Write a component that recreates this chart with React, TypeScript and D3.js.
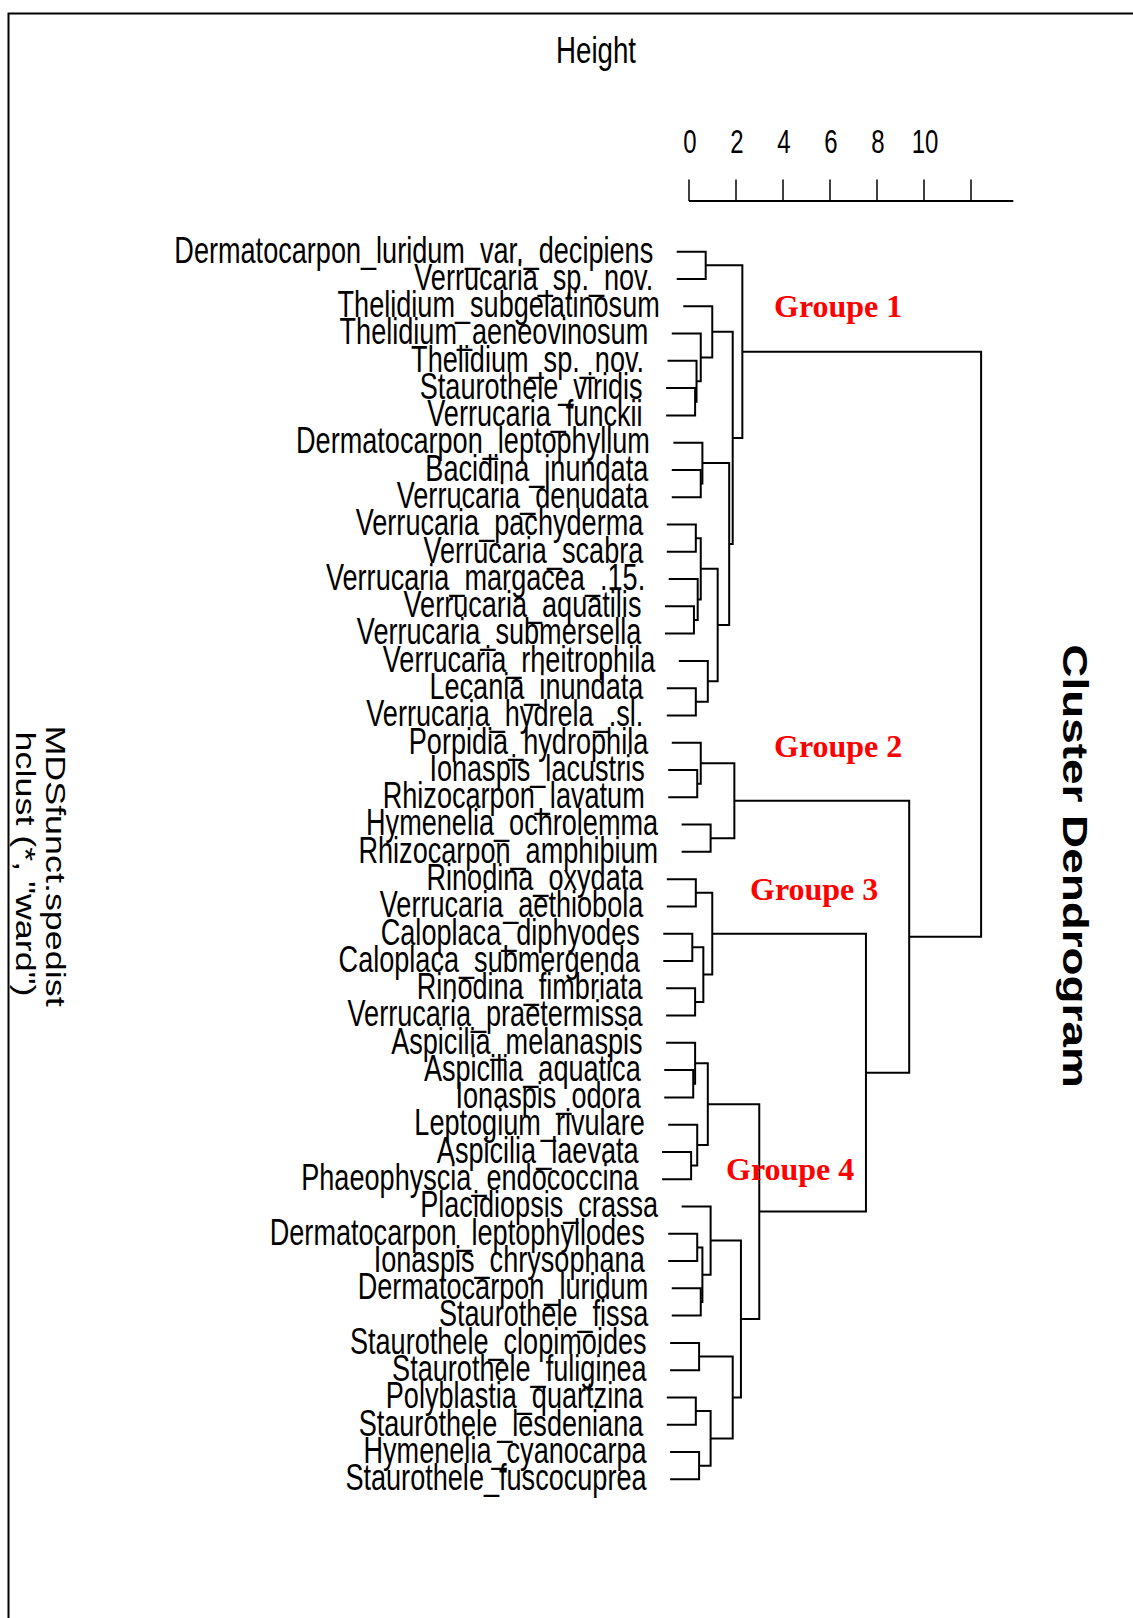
import React from 'react';
import * as d3 from 'd3';

// ---- data ----
const leafLabels = [
  'Dermatocarpon_luridum_var._decipiens', 'Verrucaria_sp._nov.', 'Thelidium_subgelatinosum',
  'Thelidium_aeneovinosum', 'Thelidium_sp._nov.', 'Staurothele_viridis', 'Verrucaria_funckii',
  'Dermatocarpon_leptophyllum', 'Bacidina_inundata', 'Verrucaria_denudata', 'Verrucaria_pachyderma',
  'Verrucaria_scabra', 'Verrucaria_margacea_.15.', 'Verrucaria_aquatilis', 'Verrucaria_submersella',
  'Verrucaria_rheitrophila', 'Lecania_inundata', 'Verrucaria_hydrela_.sl.', 'Porpidia_hydrophila',
  'Ionaspis_lacustris', 'Rhizocarpon_lavatum', 'Hymenelia_ochrolemma', 'Rhizocarpon_amphibium',
  'Rinodina_oxydata', 'Verrucaria_aethiobola', 'Caloplaca_diphyodes', 'Caloplaca_submergenda',
  'Rinodina_fimbriata', 'Verrucaria_praetermissa', 'Aspicilia_melanaspis', 'Aspicilia_aquatica',
  'Ionaspis_odora', 'Leptogium_rivulare', 'Aspicilia_laevata', 'Phaeophyscia_endococcina',
  'Placidiopsis_crassa', 'Dermatocarpon_leptophyllodes', 'Ionaspis_chrysophana', 'Dermatocarpon_luridum',
  'Staurothele_fissa', 'Staurothele_clopimoides', 'Staurothele_fuliginea', 'Polyblastia_quartzina',
  'Staurothele_lesdeniana', 'Hymenelia_cyanocarpa', 'Staurothele_fuscocuprea',
];

// R hclust-style merge table: negative = leaf (1-based), positive = earlier merge step (1-based)
const mergeLeft = [
  -1, -6, -5, -4, -3, -9, -8, -11, -14, -13, 8, -17, -16, 11, 7, 5, 1,
  -20, -19, -22, 19, -24, -26, -28, 23, 22, -31, -30, -34, -33, 28,
  -37, -39, 32, -36, -41, -43, -45, 37, 36, 35, 31, 26, 21, 17,
];
const mergeRight = [
  -2, -7, 2, 3, 4, -10, 6, -12, -15, 9, 10, -18, 12, 13, 14, 15, 16,
  -21, 18, -23, 20, -25, -27, -29, 24, 25, -32, 27, -35, 29, 30,
  -38, -40, 33, 34, -42, -44, -46, 38, 39, 40, 41, 42, 43, 44,
];
const mergeHeight = [
  0.71, 0.26, 0.32, 0.50, 0.99, 0.50, 0.57, 0.29, 0.21, 0.37, 0.50, 0.29, 0.80, 1.22, 1.71, 1.86, 2.27,
  0.35, 0.50, 0.92, 1.93, 0.29, 0.14, 0.26, 0.61, 0.99, 0.18, 0.26, 0.09, 0.35, 0.80,
  0.35, 0.50, 0.57, 0.92, 0.43, 0.29, 0.43, 0.92, 1.86, 2.21, 2.99, 7.53, 9.37, 12.43,
];

const axisTicks = [0, 2, 4, 6, 8, 10, 12];
const axisTickLabels = ['0', '2', '4', '6', '8', '10'];
const axisMax = 13.8;
const groupLabels = ['Groupe 1', 'Groupe 2', 'Groupe 3', 'Groupe 4'];
const titleText = 'Cluster Dendrogram';
const xlabText = 'MDSfunct.spedist';
const subText = 'hclust (*, "ward")';
const ylabText = 'Height';

// ---- layout ----
const W = 1133;
const H = 1618;
const K = 1.33; // vertical stretch of the picture
const groupPos = [
  { x: 774, y: 317 },
  { x: 774, y: 757 },
  { x: 750, y: 900 },
  { x: 726, y: 1180 },
];
const sans = '"Liberation Sans", Arial, Helvetica, sans-serif';
const serif = '"Liberation Serif", "Times New Roman", serif';

export default function App() {
  const x = d3.scaleLinear().domain([0, 12]).range([689, 971]);
  const y = d3.scalePoint<string>().domain(leafLabels).range([251.7, 1479.3]);

  const hang = 0.1 * ((d3.max(mergeHeight) as number) - (d3.min(mergeHeight) as number));

  const nodeY: number[] = [];
  const leafStart: number[] = new Array(leafLabels.length).fill(0);
  const paths: string[] = [];

  mergeHeight.forEach((h, i) => {
    const child = (c: number) => {
      if (c < 0) {
        const idx = -c - 1;
        const x0 = x(h - hang);
        leafStart[idx] = x0;
        return { y: y(leafLabels[idx]) as number, x0 };
      }
      return { y: nodeY[c - 1], x0: x(mergeHeight[c - 1]) };
    };
    const a = child(mergeLeft[i]);
    const b = child(mergeRight[i]);
    const xm = x(h);
    nodeY[i] = (a.y + b.y) / 2;
    paths.push(`M${a.x0},${a.y}H${xm}V${b.y}H${b.x0}`);
  });

  return (
    <svg
      width={W}
      height={H}
      viewBox={`0 0 ${W} ${H}`}
      style={{ position: 'absolute', left: 0, top: 0, background: '#fff' }}
    >
      <rect x={0} y={0} width={W} height={H} fill="#fff" />
      {/* frame */}
      <path d={`M8.5,${H + 5}V13.5H${W + 5}`} fill="none" stroke="#000" strokeWidth={2} />

      {/* axis */}
      <text
        transform={`translate(596,63.3) scale(1,${K})`}
        textAnchor="middle"
        fontFamily={sans}
        fontSize={27.7}
      >
        {ylabText}
      </text>
      <line x1={x(0)} x2={x(axisMax)} y1={201} y2={201} stroke="#000" strokeWidth={2} />
      {axisTicks.map((t) => (
        <line key={t} x1={x(t)} x2={x(t)} y1={179.5} y2={201} stroke="#000" strokeWidth={1.5} />
      ))}
      {axisTickLabels.map((t) => (
        <text
          key={t}
          transform={`translate(${x(+t) + 1},152.5) scale(1,1.36)`}
          textAnchor="middle"
          fontFamily={sans}
          fontSize={24}
        >
          {t}
        </text>
      ))}

      {/* tree */}
      <g fill="none" stroke="#000" strokeWidth={2}>
        {paths.map((d, i) => (
          <path key={i} d={d} />
        ))}
      </g>

      {/* leaf labels */}
      {leafLabels.map((lab, i) => (
        <text
          key={lab}
          transform={`translate(${leafStart[i] - 23.5},${y(lab)}) scale(1,${K})`}
          textAnchor="end"
          dy="0.3em"
          fontFamily={sans}
          fontSize={27.1}
        >
          {lab}
        </text>
      ))}

      {/* group labels */}
      {groupLabels.map((g, i) => (
        <text
          key={g}
          x={groupPos[i].x}
          y={groupPos[i].y}
          fill="#ff0000"
          fontFamily={serif}
          fontWeight="bold"
          fontSize={32}
        >
          {g}
        </text>
      ))}

      {/* title and subtitles (rotated) */}
      <text
        transform={`translate(1063,866) rotate(90) scale(${K},1)`}
        textAnchor="middle"
        fontFamily={sans}
        fontWeight="bold"
        fontSize={34.5}
      >
        {titleText}
      </text>
      <text
        transform={`translate(46,866) rotate(90) scale(${K},1)`}
        textAnchor="middle"
        fontFamily={sans}
        fontSize={27}
      >
        {xlabText}
      </text>
      <text
        transform={`translate(15.5,864) rotate(90) scale(${K},1)`}
        textAnchor="middle"
        fontFamily={sans}
        fontSize={27}
      >
        {subText}
      </text>
    </svg>
  );
}
